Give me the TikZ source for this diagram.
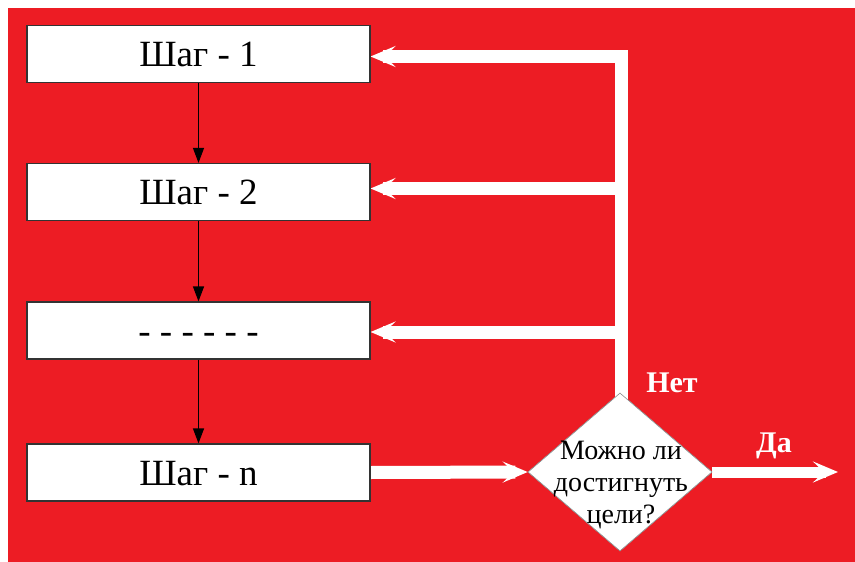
\documentclass[tikz,border=0pt]{standalone}
\usepackage{fontspec}
\setmainfont{Liberation Serif}
\usetikzlibrary{arrows.meta,shapes.geometric,calc}
\definecolor{bgred}{RGB}{237,28,36}
\begin{document}
\begin{tikzpicture}[x=1pt,y=-1pt,
  stepbox/.style={draw=black!80, line width=1.2pt, fill=white, minimum width=343pt,
    minimum height=57pt, inner sep=0pt, font=\fontsize{37}{40}\selectfont,
    text height=25pt, text depth=0pt},
  flow/.style={draw=black, line width=1.2pt, -{Triangle[length=15pt,width=11pt]}},
  fb/.style={draw=white, line width=13pt, line join=miter},
  fbarrow/.style={fb, -{Stealth[length=25pt,width=21pt,inset=11pt]}},
  decision/.style={diamond, fill=white, draw=black!45, line width=0.6pt, inner sep=0pt,
    minimum width=184pt, minimum height=158pt},
  qtext/.style={align=center, font=\fontsize{28}{32}\selectfont, inner sep=0pt},
  answer/.style={text=white, font=\bfseries\fontsize{30}{32}\selectfont, inner sep=0pt}
]
\useasboundingbox (0,0) rectangle (855,562);
% background
\path[fill=white] (0,0) rectangle (855,562);
\path[fill=bgred] (8,8) rectangle (856,563);

% nodes
\node[stepbox] (b1) at (198.5,54) {Шаг - 1};
\node[stepbox] (b2) at (198.5,192) {Шаг - 2};
\node[stepbox] (b3) at (198.5,330.5) {- - - - - -};
\node[stepbox] (b4) at (198.5,472.5) {Шаг - n};
\node[decision] (d) at (620,472) {};
\node[qtext] (q) at (621,485) {Можно ли\\достигнуть\\цели?};
\node[answer] (no) at (672,383) {Нет};
\node[answer] (yes) at (774,446) {Да};

% junctions
\coordinate (j1) at (621,56.5);
\coordinate (j2) at (621,188.5);
\coordinate (j3) at (621,332);
\coordinate (out) at (838,472);

% feedback lines (white)
\draw[fbarrow] ($(d.north)+(1,8)$) -- (j1) -- (j1 -| b1.east);
\draw[fbarrow] (j2) -- (j2 -| b2.east);
\draw[fbarrow] (j3) -- (j3 -| b3.east);
\draw[fbarrow] (b4.east) -- (d.west);
\draw[fbarrow, line width=11pt] (d.east) -- (out);

% redraw nodes on top
\node[stepbox] at (b1) {Шаг - 1};
\node[stepbox] at (b2) {Шаг - 2};
\node[stepbox] at (b3) {- - - - - -};
\node[stepbox] at (b4) {Шаг - n};
\node[decision] at (d) {};
\node[qtext] at (q) {Можно ли\\достигнуть\\цели?};

% flow arrows
\draw[flow] (b1.south) -- (b2.north);
\draw[flow] (b2.south) -- (b3.north);
\draw[flow] (b3.south) -- (b4.north);
\end{tikzpicture}
\end{document}
